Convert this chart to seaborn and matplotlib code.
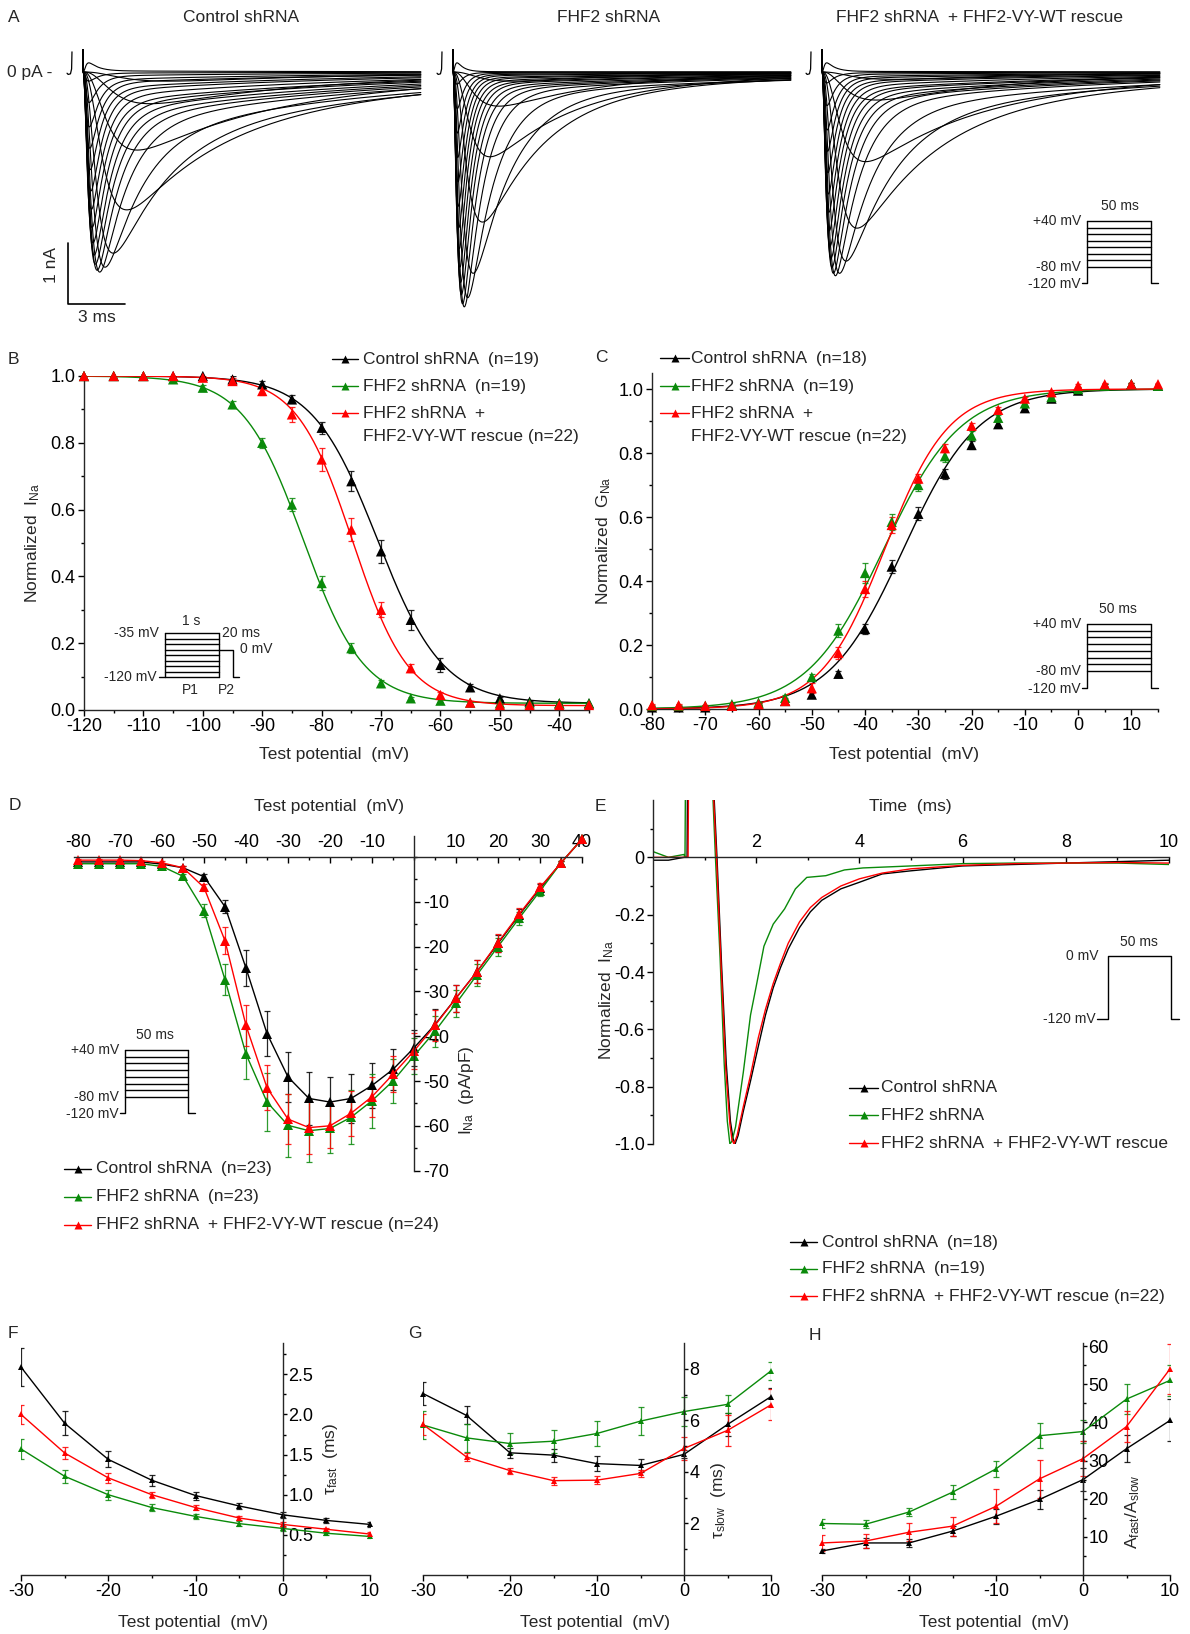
import numpy as np
import pandas as pd
import matplotlib
matplotlib.use("Agg")
import matplotlib.pyplot as plt
from matplotlib.ticker import MultipleLocator, FixedLocator, FuncFormatter
import seaborn as sns

sns.set_style("ticks")
plt.rcParams['font.family'] = ['Liberation Sans', 'DejaVu Sans']
plt.rcParams['mathtext.default'] = 'regular'
plt.rcParams['axes.unicode_minus'] = False

W, H = 1190, 1634
FS = 12.5
FS_TICK = 13
FS_SMALL = 10
groups = ['Control', 'FHF2', 'Rescue']
pal = {'Control': '#000000', 'FHF2': '#0a8a0a', 'Rescue': '#ff0000'}

# ---------------- data ----------------
# A: example current families (one trace per test step)
step_mv = [-55, -50, -45, -40, -35, -30, -25, -20, -15, -10, -5, 0, 5, 10, 15, 20, 25, 30, 35, 40]
peak_nA = {
    'Control': [-0.15, -0.52, -1.28, -2.26, -2.97, -3.20, -3.28, -3.25, -3.15, -3.00, -2.80, -2.55,
                -2.25, -1.95, -1.60, -1.25, -0.90, -0.50, -0.15, 0.15],
    'FHF2': [-0.15, -0.56, -1.39, -2.46, -3.30, -3.70, -3.85, -3.80, -3.65, -3.45, -3.20, -2.90,
             -2.55, -2.20, -1.80, -1.40, -1.00, -0.60, -0.20, 0.15],
    'Rescue': [-0.12, -0.46, -1.47, -2.56, -3.10, -3.30, -3.34, -3.30, -3.20, -3.05, -2.85, -2.60,
               -2.30, -2.00, -1.65, -1.30, -0.95, -0.55, -0.18, 0.15],
}
tau_m_ms = [1.5, 1.1, 0.85, 0.7, 0.5, 0.38, 0.3, 0.26, 0.23, 0.21, 0.19, 0.17, 0.16, 0.15, 0.14,
            0.13, 0.12, 0.12, 0.11, 0.11]
tau_h_ms = [8.0, 7.0, 6.0, 4.5, 2.8, 1.9, 1.4, 1.15, 1.0, 0.9, 0.82, 0.75, 0.7, 0.65, 0.6, 0.58,
            0.55, 0.52, 0.5, 0.5]
slow_frac = [0.35, 0.35, 0.35, 0.3, 0.25, 0.2, 0.15, 0.13, 0.12, 0.11, 0.1, 0.1, 0.09, 0.08, 0.08,
             0.07, 0.07, 0.06, 0.06, 0.06]
tau_slow_ms = 14.0
kinetics = {'Control': (1.0, 1.0, 1.0), 'FHF2': (0.72, 0.7, 0.3), 'Rescue': (0.8, 0.9, 0.6)}
sweep_ms = 17.8

# B: steady-state inactivation
inact_mv = list(range(-120, -34, 5))
inact = {
    'Control': [1.0, 1.0, 1.0, 1.0, 1.0, 0.99, 0.975, 0.93, 0.845, 0.685, 0.475, 0.27, 0.135, 0.068,
                0.035, 0.025, 0.02, 0.02],
    'FHF2': [1.0, 1.0, 1.0, 0.99, 0.965, 0.915, 0.80, 0.615, 0.38, 0.185, 0.08, 0.035, 0.028, 0.022,
             0.02, 0.02, 0.02, 0.02],
    'Rescue': [1.0, 1.0, 1.0, 1.0, 0.995, 0.985, 0.955, 0.885, 0.75, 0.54, 0.30, 0.125, 0.045, 0.022,
               0.015, 0.015, 0.015, 0.015],
}
inact_err = {
    'Control': [0, 0, 0, 0, 0.005, 0.01, 0.01, 0.012, 0.018, 0.03, 0.035, 0.03, 0.02, 0.01, 0.005,
                0.003, 0.003, 0.003],
    'FHF2': [0, 0, 0, 0.005, 0.008, 0.01, 0.015, 0.02, 0.02, 0.015, 0.01, 0.005, 0.005, 0.003, 0.003,
             0.003, 0.003, 0.003],
    'Rescue': [0, 0, 0, 0, 0.005, 0.008, 0.012, 0.022, 0.035, 0.035, 0.022, 0.012, 0.008, 0.005,
               0.003, 0.003, 0.003, 0.003],
}
inact_fit = {'Control': (-70.6, 5.5, 0.02), 'FHF2': (-83.1, 5.1, 0.02), 'Rescue': (-74.8, 4.7, 0.013)}

# C: activation (conductance)
act_mv = list(range(-80, 16, 5))
act = {
    'Control': [0.005, 0.005, 0.005, 0.01, 0.015, 0.025, 0.045, 0.11, 0.25, 0.445, 0.61, 0.735, 0.825,
                0.89, 0.94, 0.97, 0.995, 1.01, 1.015, 1.01],
    'FHF2': [0.01, 0.01, 0.01, 0.015, 0.02, 0.035, 0.10, 0.245, 0.425, 0.585, 0.70, 0.79, 0.855, 0.91,
             0.955, 0.975, 1.0, 1.01, 1.015, 1.01],
    'Rescue': [0.012, 0.012, 0.01, 0.01, 0.015, 0.025, 0.065, 0.175, 0.375, 0.575, 0.72, 0.815, 0.885,
               0.935, 0.97, 0.99, 1.01, 1.015, 1.015, 1.015],
}
act_err = {
    'Control': [0.003] * 6 + [0.008, 0.01, 0.015, 0.02, 0.02, 0.015, 0.012, 0.01, 0.008, 0.005, 0.005,
                              0.005, 0.005, 0.005],
    'FHF2': [0.003] * 5 + [0.008, 0.01, 0.02, 0.03, 0.025, 0.02, 0.018, 0.015, 0.01, 0.008, 0.005,
                           0.005, 0.005, 0.005, 0.005],
    'Rescue': [0.003] * 5 + [0.008, 0.015, 0.02, 0.025, 0.025, 0.015, 0.012, 0.01, 0.008, 0.006,
                             0.005, 0.005, 0.005, 0.005, 0.005],
}
act_fit = {'Control': (-32.8, 7.0), 'FHF2': (-36.5, 7.2), 'Rescue': (-36.3, 6.0)}

# D: current density - voltage
iv_mv = list(range(-80, 41, 5))
iv = {
    'Control': [-1.1, -1.1, -1.1, -1.1, -1.6, -2.4, -4.4, -11.1, -24.8, -39.4, -49.1, -53.9, -54.7,
                -53.9, -51.0, -47.4, -42.6, -37.4, -31.5, -25.6, -19.3, -13.0, -7.0, -1.3, 4.0],
    'FHF2': [-1.5, -1.5, -1.5, -1.5, -2.1, -4.3, -12.0, -27.4, -44.0, -54.7, -59.9, -61.1, -60.6,
             -58.1, -54.4, -50.0, -44.4, -38.9, -32.7, -26.3, -20.0, -13.7, -7.6, -1.3, 4.0],
    'Rescue': [-0.7, -0.7, -0.7, -0.8, -1.3, -2.4, -6.8, -18.7, -37.6, -51.5, -58.5, -60.4, -60.0,
               -57.2, -53.5, -48.5, -43.3, -37.6, -31.5, -25.6, -19.1, -12.8, -6.8, -1.3, 4.0],
}
iv_err = {
    'Control': [0.2, 0.2, 0.2, 0.2, 0.3, 0.4, 0.6, 1.5, 4.0, 5.0, 5.5, 6.0, 5.5, 5.5, 5.0, 4.5, 4.0,
                3.5, 3.0, 2.5, 2.0, 1.5, 1.0, 0.5, 0.3],
    'FHF2': [0.2, 0.2, 0.2, 0.2, 0.3, 0.5, 1.5, 3.5, 5.5, 6.5, 7.0, 7.0, 5.5, 6.0, 6.0, 5.0, 4.0, 3.5,
             3.0, 2.5, 2.0, 1.5, 1.0, 0.5, 0.3],
    'Rescue': [0.2, 0.2, 0.2, 0.2, 0.3, 0.4, 0.8, 3.0, 4.5, 5.0, 5.5, 6.0, 5.0, 5.0, 4.5, 4.0, 4.0,
               3.5, 3.0, 2.5, 2.0, 1.5, 1.0, 0.5, 0.3],
}

# E: normalized traces at 0 mV (time ms, normalized current)
traceE_t = {
    'Control': [0, 0.3, 0.6, 0.66, 0.67, 1.16, 1.24, 1.33, 1.42, 1.5, 1.55, 1.59, 1.65, 1.75, 1.89,
                2.04, 2.18, 2.33, 2.47, 2.62, 2.84, 3.05, 3.27, 3.64, 4.0, 4.44, 5.0, 6.0, 7.0, 8.0,
                9.0, 10.0],
    'FHF2': [0, 0.3, 0.6, 0.62, 0.63, 1.14, 1.21, 1.3, 1.38, 1.44, 1.49, 1.53, 1.6, 1.75, 1.89, 2.0,
             2.15, 2.33, 2.55, 2.76, 2.98, 3.35, 3.71, 4.07, 5.0, 6.0, 7.0, 8.0, 9.0, 10.0],
    'Rescue': [0, 0.3, 0.66, 0.68, 0.69, 1.15, 1.23, 1.32, 1.41, 1.49, 1.53, 1.57, 1.63, 1.75, 1.89,
               2.04, 2.18, 2.33, 2.47, 2.62, 2.84, 3.05, 3.27, 3.64, 4.0, 4.44, 5.0, 6.0, 7.0, 8.0,
               9.0, 10.0],
}
traceE_i = {
    'Control': [-0.01, -0.01, 0, 0, 0.3, 0.3, 0, -0.38, -0.72, -0.92, -0.98, -1.0, -0.97, -0.886,
                -0.78, -0.66, -0.55, -0.455, -0.385, -0.32, -0.245, -0.19, -0.15, -0.11, -0.087,
                -0.058, -0.047, -0.03, -0.025, -0.02, -0.015, -0.01],
    'FHF2': [0.02, 0.0, 0.01, 0.0, 0.3, 0.3, 0, -0.35, -0.72, -0.92, -1.0, -0.99, -0.94, -0.75, -0.55,
             -0.45, -0.31, -0.233, -0.18, -0.11, -0.07, -0.064, -0.044, -0.037, -0.03, -0.022, -0.02,
             -0.02, -0.02, -0.025],
    'Rescue': [0, 0, 0, 0, 0.3, 0.3, 0, -0.38, -0.74, -0.93, -0.985, -1.0, -0.97, -0.87, -0.76,
               -0.63, -0.53, -0.44, -0.37, -0.30, -0.225, -0.175, -0.14, -0.1, -0.075, -0.055,
               -0.04, -0.028, -0.022, -0.02, -0.018, -0.02],
}

# F-H: inactivation kinetics
kin_mv = [-30, -25, -20, -15, -10, -5, 0, 5, 10]
tau_fast = {'Control': [2.59, 1.89, 1.44, 1.18, 0.99, 0.86, 0.75, 0.68, 0.63],
            'FHF2': [1.57, 1.23, 1.00, 0.84, 0.73, 0.64, 0.58, 0.52, 0.48],
            'Rescue': [2.00, 1.52, 1.21, 1.00, 0.84, 0.71, 0.63, 0.57, 0.51]}
tau_fast_err = {'Control': [0.24, 0.15, 0.10, 0.07, 0.05, 0.04, 0.04, 0.03, 0.03],
                'FHF2': [0.12, 0.08, 0.06, 0.04, 0.03, 0.03, 0.03, 0.02, 0.02],
                'Rescue': [0.12, 0.08, 0.06, 0.04, 0.03, 0.03, 0.03, 0.02, 0.02]}
tau_slow = {'Control': [7.04, 6.19, 4.74, 4.65, 4.32, 4.25, 4.68, 5.84, 6.92],
            'FHF2': [5.82, 5.32, 5.10, 5.19, 5.49, 5.97, 6.34, 6.62, 7.92],
            'Rescue': [5.84, 4.58, 4.05, 3.66, 3.68, 3.94, 4.91, 5.61, 6.60]}
tau_slow_err = {'Control': [0.45, 0.35, 0.2, 0.25, 0.3, 0.25, 0.15, 0.45, 0.35],
                'FHF2': [0.55, 0.55, 0.4, 0.45, 0.5, 0.55, 0.55, 0.35, 0.35],
                'Rescue': [0.4, 0.15, 0.12, 0.15, 0.15, 0.15, 0.45, 0.6, 0.6]}
amp_ratio = {'Control': [6.3, 8.4, 8.4, 11.5, 15.4, 19.8, 25.0, 33.1, 40.5],
             'FHF2': [13.5, 13.3, 16.5, 21.7, 27.8, 36.5, 37.6, 46.1, 51.0],
             'Rescue': [8.4, 8.9, 11.2, 12.8, 18.0, 25.2, 30.5, 38.9, 54.0]}
amp_ratio_err = {'Control': [0.5, 1.3, 1.0, 1.3, 2.0, 2.5, 3.0, 3.5, 5.5],
                 'FHF2': [1.3, 1.0, 1.0, 1.8, 2.0, 3.3, 3.0, 4.0, 4.0],
                 'Rescue': [2.0, 1.8, 2.3, 2.5, 4.5, 5.0, 4.5, 4.0, 6.5]}

# ---------------- helpers ----------------
fig = plt.figure(figsize=(W / 100, H / 100), dpi=100)


def place(xlim, ylim, px, py):
    (x0, x1), (y0, y1) = px, py
    ax = fig.add_axes([x0 / W, 1 - y0 / H, (x1 - x0) / W, (y0 - y1) / H])
    ax.set_xlim(*xlim)
    ax.set_ylim(*ylim)
    ax.patch.set_alpha(0)
    return ax


def ftext(x, y, s, size=FS, **kw):
    kw.setdefault('ha', 'center')
    kw.setdefault('va', 'center')
    fig.text(x / W, 1 - y / H, s, fontsize=size, **kw)


def frame(x, series):
    return pd.concat([pd.DataFrame({'x': x, 'y': v, 'group': g}) for g, v in series.items()],
                     ignore_index=True)


def style(ax):
    ax.tick_params(which='both', labelsize=FS_TICK, width=1, colors='k', pad=2)
    ax.tick_params(which='major', length=4)
    ax.tick_params(which='minor', length=2.5)
    for s in ax.spines.values():
        s.set_linewidth(1.0)
    ax.set_xlabel('')
    ax.set_ylabel('')


def errbars(ax, x, err_src, series, cap=2.5):
    for g in groups:
        ax.errorbar(x, series[g], yerr=err_src[g], fmt='none', ecolor=pal[g], elinewidth=0.9,
                    capsize=cap, capthick=0.9, zorder=2, alpha=0.85)


def line_markers(ax, x, series, ms=6):
    sns.lineplot(data=frame(x, series), x='x', y='y', hue='group', palette=pal, hue_order=groups,
                 marker='^', markersize=ms, markeredgewidth=0, lw=1.0, legend=False, ax=ax,
                 errorbar=None, clip_on=False)


def na_trace(t, tm, th, f, ts):
    g = (1 - np.exp(-t / tm)) ** 3 * ((1 - f) * np.exp(-t / th) + f * np.exp(-t / ts))
    return g / g.max()


# overlay for legends, protocols, labels
ov = fig.add_axes([0, 0, 1, 1], zorder=10)
ov.set_xlim(0, W)
ov.set_ylim(H, 0)
ov.axis('off')
ov.patch.set_alpha(0)


def legend_rows(x0, x1, xt, ys, labels, extra=None):
    for y, lab, g in zip(ys, labels, groups):
        ov.plot([x0, x1], [y, y], color=pal[g], lw=1.0)
        ov.plot([(x0 + x1) / 2], [y], marker='^', ms=6, color=pal[g], mec='none')
        ov.text(xt, y, lab, fontsize=FS, ha='left', va='center')
    if extra:
        ov.text(xt, extra[1], extra[0], fontsize=FS, ha='left', va='center')


def step_box(xl, xr, y_top, y_low, y_base, n, x_pre, x_post):
    for y in np.linspace(y_top, y_low, n):
        ov.plot([xl, xr], [y, y], color='k', lw=1.0)
    ov.plot([x_pre, xl, xl], [y_base, y_base, y_top], color='k', lw=1.0)
    ov.plot([xr, xr, x_post], [y_top, y_base, y_base], color='k', lw=1.0)


def multi_protocol(xl, xr, y_top, y_low, y_base, x_post, cx):
    step_box(xl, xr, y_top, y_low, y_base, 8, xl - 5, x_post)
    ov.text(cx, y_top - 15, '50 ms', fontsize=FS_SMALL, ha='center', va='center')
    ov.text(xl - 6, y_top, '+40 mV', fontsize=FS_SMALL, ha='right', va='center')
    ov.text(xl - 6, y_low, '-80 mV', fontsize=FS_SMALL, ha='right', va='center')
    ov.text(xl - 6, y_base + 1, '-120 mV', fontsize=FS_SMALL, ha='right', va='center')


# ---------------- A: current traces ----------------
t = np.arange(0.02, sweep_ms, 0.02)
a_origins = {'Control': 83, 'FHF2': 453, 'Rescue': 822}
a_titles = {'Control': 'Control shRNA', 'FHF2': 'FHF2 shRNA', 'Rescue': 'FHF2 shRNA  + FHF2-VY-WT rescue'}
for g in groups:
    t0 = a_origins[g]
    ax = place((-1.0, 18.0), (-4.0, 0.6), (t0 - 19, t0 + 18 * 19), (72 + 4.0 * 61, 72 - 0.6 * 61))
    ax.axis('off')
    sm, sh, sf = kinetics[g]
    rows = []
    for k, v in enumerate(step_mv):
        shape = na_trace(t, tau_m_ms[k] * sm, tau_h_ms[k] * sh, slow_frac[k] * sf, tau_slow_ms)
        cur = peak_nA[g][k] * shape
        rows.append(pd.DataFrame({'t': np.r_[0.0, t], 'I': np.r_[0.36, cur], 'trace': v}))
    dfa = pd.concat(rows, ignore_index=True)
    sns.lineplot(data=dfa, x='t', y='I', units='trace', estimator=None, sort=False, color='k',
                 lw=0.8, ax=ax, legend=False)
    ax.plot([-0.84, -0.78, -0.66, -0.6, -0.58], [-0.02, -0.04, -0.03, 0.05, 0.33], color='k', lw=0.9)
    ax.set_xlim(-1.0, 18.0)
    ax.set_ylim(-4.0, 0.6)
    if g == 'Control':
        ax.plot([-0.8, -0.8, 2.2], [-2.8, -3.8, -3.8], color='k', lw=1.2)
ftext(14, 17, 'A')
ftext(241, 17, a_titles['Control'])
ftext(609, 17, a_titles['FHF2'])
ftext(979, 17, a_titles['Rescue'])
ftext(7, 72, '0 pA -', ha='left')
ftext(52, 265, '1 nA', rotation=90)
ftext(97, 318, '3 ms')
multi_protocol(1087, 1151, 221, 267, 283, 1158, 1120)

# ---------------- B: inactivation ----------------
axB = place((-120, -35), (0, 1.0), (84, 589), (710, 376))
vB = np.linspace(-120, -35, 300)
fitB = pd.concat([pd.DataFrame({'x': vB, 'y': b + (1 - b) / (1 + np.exp((vB - v) / k)), 'group': g})
                  for g, (v, k, b) in inact_fit.items()], ignore_index=True)
sns.lineplot(data=fitB, x='x', y='y', hue='group', palette=pal, hue_order=groups, lw=1.0,
             legend=False, ax=axB, errorbar=None)
errbars(axB, inact_mv, inact_err, inact)
sns.scatterplot(data=frame(inact_mv, inact), x='x', y='y', hue='group', palette=pal, hue_order=groups,
                marker='^', s=55, linewidth=0, legend=False, ax=axB, zorder=4, clip_on=False)
axB.xaxis.set_major_locator(MultipleLocator(10))
axB.xaxis.set_minor_locator(MultipleLocator(5))
axB.yaxis.set_major_locator(MultipleLocator(0.2))
axB.yaxis.set_minor_locator(MultipleLocator(0.1))
axB.yaxis.set_major_formatter(FuncFormatter(lambda v, p: f'{v:.1f}'))
sns.despine(ax=axB)
style(axB)
ftext(13, 359, 'B')
ftext(33, 543, r'Normalized  I$_{Na}$', rotation=90)
ftext(334, 754, 'Test potential  (mV)')
legend_rows(332, 358, 363, [359, 386, 413],
            ['Control shRNA  (n=19)', 'FHF2 shRNA  (n=19)', 'FHF2 shRNA  +'],
            extra=('FHF2-VY-WT rescue (n=22)', 436))
# P1/P2 protocol
step_box(165, 219, 633, 677, 677, 9, 159, 219)
ov.plot([219, 233, 233, 239], [650, 650, 677, 677], color='k', lw=1.0)
ov.text(191, 621, '1 s', fontsize=FS_SMALL, ha='center', va='center')
ov.text(159, 633, '-35 mV', fontsize=FS_SMALL, ha='right', va='center')
ov.text(222, 633, '20 ms', fontsize=FS_SMALL, ha='left', va='center')
ov.text(240, 649, '0 mV', fontsize=FS_SMALL, ha='left', va='center')
ov.text(157, 677, '-120 mV', fontsize=FS_SMALL, ha='right', va='center')
ov.text(190, 690, 'P1', fontsize=FS_SMALL, ha='center', va='center')
ov.text(226, 690, 'P2', fontsize=FS_SMALL, ha='center', va='center')

# ---------------- C: activation ----------------
axC = place((-80, 15), (0, 1.05), (652, 1158), (709, 373))
vC = np.linspace(-80, 15, 300)
fitC = pd.concat([pd.DataFrame({'x': vC, 'y': 1 / (1 + np.exp((v - vC) / k)), 'group': g})
                  for g, (v, k) in act_fit.items()], ignore_index=True)
sns.lineplot(data=fitC, x='x', y='y', hue='group', palette=pal, hue_order=groups, lw=1.0,
             legend=False, ax=axC, errorbar=None)
errbars(axC, act_mv, act_err, act)
sns.scatterplot(data=frame(act_mv, act), x='x', y='y', hue='group', palette=pal, hue_order=groups,
                marker='^', s=55, linewidth=0, legend=False, ax=axC, zorder=4, clip_on=False)
axC.xaxis.set_major_locator(MultipleLocator(10))
axC.xaxis.set_minor_locator(MultipleLocator(5))
axC.yaxis.set_major_locator(MultipleLocator(0.2))
axC.yaxis.set_minor_locator(MultipleLocator(0.1))
axC.yaxis.set_major_formatter(FuncFormatter(lambda v, p: f'{v:.1f}'))
sns.despine(ax=axC)
style(axC)
ftext(601, 358, 'C')
ftext(604, 541, r'Normalized  G$_{Na}$', rotation=90)
ftext(904, 754, 'Test potential  (mV)')
legend_rows(660, 689, 691, [358, 386, 413],
            ['Control shRNA  (n=18)', 'FHF2 shRNA  (n=19)', 'FHF2 shRNA  +'],
            extra=('FHF2-VY-WT rescue (n=22)', 436))
multi_protocol(1087, 1151, 624, 671, 688, 1158, 1118)

# ---------------- D: I-V ----------------
axD = place((-81, 40), (-70, 4.7), (78 - 4.2, 582), (857 + 4.48 * 70, 857 - 4.48 * 4.7))
errbars(axD, iv_mv, iv_err, iv, cap=2.5)
line_markers(axD, iv_mv, iv, ms=6.5)
for s in ['left', 'bottom']:
    axD.spines[s].set_visible(False)
axD.spines['top'].set_position(('data', 0))
axD.spines['right'].set_position(('data', 0))
axD.xaxis.set_ticks_position('top')
axD.yaxis.set_ticks_position('right')
axD.xaxis.set_major_locator(FixedLocator([v for v in range(-80, 41, 10) if v != 0]))
axD.xaxis.set_minor_locator(MultipleLocator(5))
axD.yaxis.set_major_locator(FixedLocator(list(range(-70, 0, 10))))
axD.yaxis.set_minor_locator(MultipleLocator(5))
style(axD)
axD.tick_params(axis='x', which='both', direction='in', pad=4.5)
axD.tick_params(axis='y', which='major', pad=3)
ftext(15, 806, 'D')
ftext(329, 806, 'Test potential  (mV)')
ftext(466, 1090, r'I$_{Na}$  (pA/pF)', rotation=90)
legend_rows(64, 91, 96, [1169, 1197, 1225],
            ['Control shRNA  (n=23)', 'FHF2 shRNA  (n=23)', 'FHF2 shRNA  + FHF2-VY-WT rescue (n=24)'])
multi_protocol(125, 188, 1050, 1097, 1113, 195, 155)

# ---------------- E: normalized traces ----------------
axE = place((0, 10), (-1.0, 0.2), (653, 1169), (1144, 800))
dfE = pd.concat([pd.DataFrame({'t': traceE_t[g], 'I': traceE_i[g], 'group': g}) for g in groups],
                ignore_index=True)
sns.lineplot(data=dfE, x='t', y='I', hue='group', palette=pal, hue_order=groups, estimator=None,
             sort=False, lw=1.0, legend=False, ax=axE)
for s in ['right', 'bottom']:
    axE.spines[s].set_visible(False)
axE.spines['top'].set_position(('data', 0))
axE.xaxis.set_ticks_position('top')
axE.xaxis.set_major_locator(FixedLocator([2, 4, 6, 8, 10]))
axE.xaxis.set_minor_locator(FixedLocator([1, 3, 5, 7, 9]))
axE.yaxis.set_major_locator(FixedLocator([0, -0.2, -0.4, -0.6, -0.8, -1.0]))
axE.yaxis.set_minor_locator(FixedLocator([0.1, -0.1, -0.3, -0.5, -0.7, -0.9]))
axE.yaxis.set_major_formatter(FuncFormatter(lambda v, p: '0' if abs(v) < 1e-9 else f'{v:.1f}'))
style(axE)
axE.tick_params(axis='x', which='both', direction='in', pad=4.5)
ftext(600, 807, 'E')
ftext(910, 806, 'Time  (ms)')
ftext(607, 1000, r'Normalized  I$_{Na}$', rotation=90)
legend_rows(849, 878, 881, [1088, 1115, 1143],
            ['Control shRNA', 'FHF2 shRNA', 'FHF2 shRNA  + FHF2-VY-WT rescue'])
ov.plot([1097, 1108, 1108, 1171, 1171, 1179], [1019, 1019, 956, 956, 1019, 1019], color='k', lw=1.0)
ov.text(1139, 942, '50 ms', fontsize=FS_SMALL, ha='center', va='center')
ov.text(1098, 956, '0 mV', fontsize=FS_SMALL, ha='right', va='center')
ov.text(1096, 1019, '-120 mV', fontsize=FS_SMALL, ha='right', va='center')


# ---------------- F, G, H: kinetics ----------------
def kin_panel(px, ytop, series, errs, major, minor, letter, lx, ylab, ylx, yly):
    ax = place((-30, 10), (0, ytop), px, (1575, 1343))
    errbars(ax, kin_mv, errs, series, cap=2.2)
    line_markers(ax, kin_mv, series, ms=5)
    ax.spines['left'].set_visible(False)
    ax.spines['top'].set_visible(False)
    ax.spines['right'].set_position(('data', 0))
    ax.yaxis.set_ticks_position('right')
    ax.xaxis.set_major_locator(MultipleLocator(10))
    ax.xaxis.set_minor_locator(MultipleLocator(5))
    ax.yaxis.set_major_locator(FixedLocator(major))
    ax.yaxis.set_minor_locator(FixedLocator(minor))
    style(ax)
    ax.tick_params(axis='y', which='major', length=3, pad=1)
    ftext(lx[0], lx[1], letter)
    ftext((px[0] + px[1]) / 2 - 2, 1622, 'Test potential  (mV)')
    ftext(ylx, yly, ylab, rotation=90)
    return ax


axF = kin_panel((21, 370), 2.89, tau_fast, tau_fast_err, [0.5, 1.0, 1.5, 2.0, 2.5],
                [0.25, 0.75, 1.25, 1.75, 2.25, 2.75], 'F', (13, 1333),
                r'$\tau_{fast}$  (ms)', 330, 1459)
axF.yaxis.set_major_formatter(FuncFormatter(lambda v, p: f'{v:.1f}'))
axG = kin_panel((423, 771), 9.0, tau_slow, tau_slow_err, [2, 4, 6, 8], [1, 3, 5, 7],
                'G', (415, 1333), r'$\tau_{slow}$  (ms)', 718, 1500)
axH = kin_panel((822, 1170), 60.8, amp_ratio, amp_ratio_err, [10, 20, 30, 40, 50, 60],
                [5, 15, 25, 35, 45, 55], 'H', (815, 1335), r'A$_{fast}$/A$_{slow}$', 1133, 1512)
legend_rows(790, 817, 822, [1242, 1269, 1296],
            ['Control shRNA  (n=18)', 'FHF2 shRNA  (n=19)', 'FHF2 shRNA  + FHF2-VY-WT rescue (n=22)'])

fig.savefig('out.png', dpi=100, facecolor='white')
